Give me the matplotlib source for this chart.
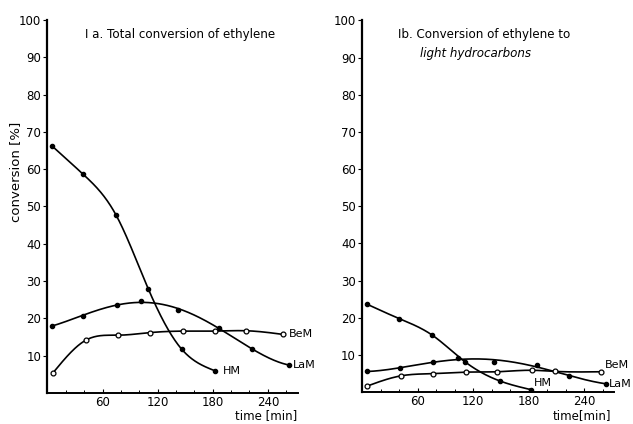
import numpy as np
import matplotlib
matplotlib.use('Agg')
import matplotlib.pyplot as plt
from matplotlib.ticker import MultipleLocator

# Ia - total conversion of ethylene [%]
t_hm_a  = [4.6, 39, 74.7, 110, 146, 182]
hm_a    = [66.3, 58.6, 47.7, 27.8, 11.8, 6.0]
t_lam_a = [4.6, 39, 75.5, 101.7, 142, 187, 222.8, 263]
lam_a   = [18.0, 20.7, 23.6, 24.7, 22.2, 17.5, 11.8, 7.5]
t_bem_a = [6.3, 42, 77.2, 111.8, 147.5, 182, 216, 257]
bem_a   = [5.5, 14.2, 15.5, 16.2, 16.6, 16.6, 16.7, 15.7]

# Ib - conversion of ethylene to light hydrocarbons [%]
t_hm_b  = [5, 40, 76, 111, 149, 182]
hm_b    = [23.7, 19.8, 15.3, 8.2, 3.0, 0.7]
t_lam_b = [5.8, 41, 77, 104, 142, 189, 223, 263]
lam_b   = [5.6, 6.5, 8.0, 9.2, 8.2, 7.2, 4.3, 2.3]
t_bem_b = [5, 42, 77, 112, 146, 183, 208, 258]
bem_b   = [1.6, 4.4, 5.0, 5.4, 5.5, 5.9, 5.6, 5.5]

xticks = [60, 120, 180, 240]
yticks = [10, 20, 30, 40, 50, 60, 70, 80, 90, 100]


def spline(x, y, n=300):
    #Natural cubic spline through the measured points
    x = np.asarray(x, float)
    y = np.asarray(y, float)
    k = len(x)
    h = np.diff(x)
    A = np.zeros((k, k))
    r = np.zeros(k)
    A[0, 0] = A[-1, -1] = 1
    for i in range(1, k-1):
        A[i, i-1] = h[i-1]
        A[i, i] = 2*(h[i-1]+h[i])
        A[i, i+1] = h[i]
        r[i] = 6*((y[i+1]-y[i])/h[i] - (y[i]-y[i-1])/h[i-1])
    m = np.linalg.solve(A, r)
    xs = np.linspace(x[0], x[-1], n)
    j = np.clip(np.searchsorted(x, xs) - 1, 0, k-2)
    a = x[j+1] - xs
    b = xs - x[j]
    hj = h[j]
    ys = (m[j]*a**3 + m[j+1]*b**3)/(6*hj) + (y[j]/hj - m[j]*hj/6)*a + (y[j+1]/hj - m[j+1]*hj/6)*b
    return xs, ys


def smooth(x, y, deg=None):
    #Hand drawn looking curve: least squares polynomial, or spline if deg is None
    if deg is None:
        return spline(x, y)
    xs = np.linspace(x[0], x[-1], 300)
    return xs, np.polyval(np.polyfit(x, y, deg), xs)


plt.rcParams['font.family'] = 'DejaVu Sans'
plt.rcParams['font.size'] = 8

fig = plt.figure(figsize=(6.33, 4.24), dpi=100)
ax1 = fig.add_axes([0.075, 0.073, 0.396, 0.88])
ax2 = fig.add_axes([0.572, 0.075, 0.398, 0.877])

panels = [
    (ax1, (t_hm_a, hm_a, None), (t_lam_a, lam_a, 4), (t_bem_a, bem_a, None), 273),
    (ax2, (t_hm_b, hm_b, None), (t_lam_b, lam_b, 4), (t_bem_b, bem_b, None), 272),
]

for ax, hm, lam, bem, xmax in panels:
    for (tx, ty, deg), filled in ((hm, True), (lam, True), (bem, False)):
        sx, sy = smooth(tx, ty, deg)
        ax.plot(sx, sy, color='black', linewidth=1.2, zorder=2)
        if filled:
            ax.plot(tx, ty, 'o', color='black', markersize=3, zorder=3)
        else:
            ax.plot(tx, ty, 'o', markerfacecolor='white', markeredgecolor='black',
                    markersize=3.5, markeredgewidth=0.9, zorder=3)

    ax.set_xlim(0, xmax)
    ax.set_ylim(0, 100)
    ax.spines['top'].set_visible(False)
    ax.spines['right'].set_visible(False)
    ax.spines['left'].set_linewidth(1.6)
    ax.spines['bottom'].set_linewidth(1.4)
    ax.set_xticks(xticks)
    ax.set_yticks(yticks)
    ax.xaxis.set_minor_locator(MultipleLocator(20))
    ax.tick_params(axis='y', which='major', length=3, width=0.8, labelsize=8.5, pad=1.5)
    ax.tick_params(axis='x', which='major', direction='in', length=3, width=0.8,
                   labelsize=8.5, pad=2)
    ax.tick_params(axis='x', which='minor', direction='in', length=2, width=0.7)

#Series names at the end of each curve
label_offsets = [
    (ax1, 'HM', t_hm_a, hm_a, (6, 0)),
    (ax1, 'LaM', t_lam_a, lam_a, (3, 0)),
    (ax1, 'BeM', t_bem_a, bem_a, (4, 0)),
    (ax2, 'HM', t_hm_b, hm_b, (2, 5)),
    (ax2, 'LaM', t_lam_b, lam_b, (2, 0)),
    (ax2, 'BeM', t_bem_b, bem_b, (3, 5)),
]
for ax, name, tx, ty, off in label_offsets:
    ax.annotate(name, xy=(tx[-1], ty[-1]), xytext=off, textcoords='offset points',
                fontsize=8, va='center', annotation_clip=False)

#Titles
ax1.text(0.15, 0.962, 'I a. Total conversion of ethylene', transform=ax1.transAxes,
         fontsize=8.6, va='center')
ax2.text(0.143, 0.962, 'Ib. Conversion of ethylene to', transform=ax2.transAxes,
         fontsize=8.6, va='center')
ax2.text(0.23, 0.912, 'light hydrocarbons', transform=ax2.transAxes,
         fontsize=8.6, va='center', style='italic')

#Axis labels
fig.text(0.024, 0.595, 'conversion [%]', rotation=90, ha='center', va='center', fontsize=9.5)
fig.text(0.469, 0.019, 'time [min]', ha='right', va='center', fontsize=8.5)
fig.text(0.966, 0.019, 'time[min]', ha='right', va='center', fontsize=8.5)

fig.savefig('out.png', dpi=100)
